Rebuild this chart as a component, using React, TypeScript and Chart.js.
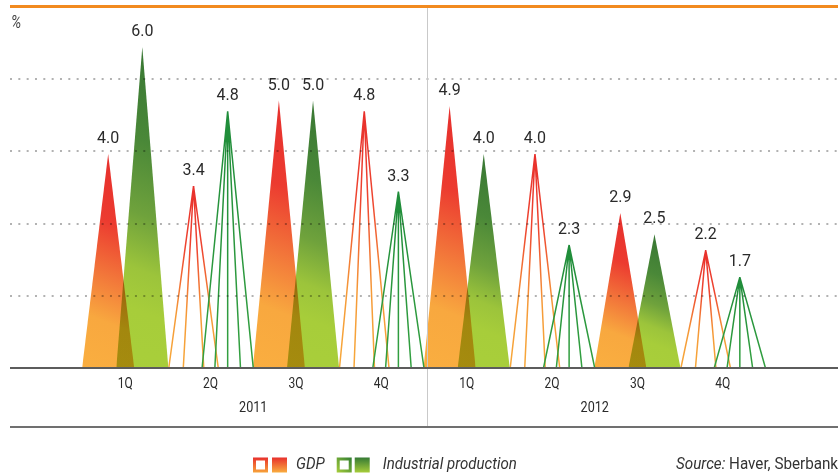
import React, { useEffect, useRef } from "react";
import { Chart, registerables } from "chart.js";

// ---------- data ----------
const quarterLabels = ["1Q", "2Q", "3Q", "4Q", "1Q", "2Q", "3Q", "4Q"];
const yearLabels = ["2011", "2012"];
const gdpValues = [4.0, 3.4, 5.0, 4.8, 4.9, 4.0, 2.9, 2.2];
const industrialValues = [6.0, 4.8, 5.0, 3.3, 4.0, 2.3, 2.5, 1.7];
const markStyles = ["solid", "lines", "solid", "lines", "solid", "lines", "solid", "lines"];
const seriesNames = ["GDP", "Industrial production"];
const yMax = 6.75;
const yStep = 1.35;

// ---------- geometry / style (category units) ----------
const X_MIN = -1.35;
const X_MAX = 8.35;
const HALF = 0.305;
const SHIFT = 0.2;
const GDP_FAN = [-0.29, -0.12, 0.12, 0.29];
const IP_FAN = [-0.3, -0.15, 0, 0.15, 0.3];
const FONT = "Roboto, 'DejaVu Sans', sans-serif";

const GDP_STOPS: [number, string][] = [
  [0, "#e52d2c"], [0.34, "#ec3b30"], [0.56, "#f2763a"], [0.75, "#f8a83f"], [1, "#faaf40"],
];
const IP_STOPS: [number, string][] = [
  [0, "#337232"], [0.32, "#4a8838"], [0.52, "#6fa23c"], [0.67, "#9cc43b"], [0.78, "#a7cd3a"], [1, "#a9cf3a"],
];
const GDP_LINE_STOPS: [number, string][] = [[0, "#e8302c"], [0.35, "#ee4530"], [0.7, "#f59a38"], [1, "#f7a83a"]];
const IP_LINE_STOPS: [number, string][] = [[0, "#1f8c3a"], [1, "#33a040"]];

const blendPlugin: any = {
  id: "blendMultiply",
  beforeDatasetDraw(chart: any, args: any) {
    const ds = chart.data.datasets[args.index];
    if (ds.blend) {
      chart.ctx.save();
      chart.ctx.globalCompositeOperation = ds.blend;
    }
  },
  afterDatasetDraw(chart: any, args: any) {
    const ds = chart.data.datasets[args.index];
    if (ds.blend) chart.ctx.restore();
  },
};
Chart.register(blendPlugin, ...registerables);

function triGradient(chart: any, ds: any, stops: [number, string][], tilt: number) {
  if (!chart.chartArea || !ds) return stops[stops.length - 1][1];
  const xs = chart.scales.x, ys = chart.scales.y;
  const tip = ds.data[1];
  const tx = xs.getPixelForValue(tip.x);
  const ty = ys.getPixelForValue(tip.y);
  const by = ys.getPixelForValue(0);
  const h = by - ty;
  const g = chart.ctx.createLinearGradient(tx + tilt * h, ty, tx - tilt * h, by);
  stops.forEach(([o, c]) => g.addColorStop(o, c));
  return g;
}

function buildDatasets() {
  const sets: any[] = [];
  const add = (
    values: number[], shift: number, stops: [number, string][], fan: number[],
    lineStops: [number, string][], order: number, blend: string | null
  ) => {
    values.forEach((v, i) => {
      const c = i + shift;
      if (markStyles[i] === "solid") {
        sets.push({
          data: [{ x: c - HALF, y: 0 }, { x: c, y: v }, { x: c + HALF, y: 0 }],
          fill: "origin",
          borderWidth: 0,
          borderColor: "rgba(0,0,0,0)",
          pointRadius: 0,
          order,
          blend,
          backgroundColor: (ctx: any) => triGradient(ctx.chart, ctx.chart.data.datasets[ctx.datasetIndex], stops, 0.2),
        });
      } else {
        const data: any[] = [];
        fan.forEach((o) => {
          data.push({ x: c + o, y: 0 }, { x: c, y: v }, { x: c + o, y: null });
        });
        sets.push({
          data,
          fill: false,
          borderWidth: 1.5,
          spanGaps: false,
          pointRadius: 0,
          borderCapStyle: "butt",
          order,
          blend: null,
          borderColor: (ctx: any) => triGradient(ctx.chart, ctx.chart.data.datasets[ctx.datasetIndex], lineStops, 0),
        });
      }
    });
  };
  add(industrialValues, SHIFT, IP_STOPS, IP_FAN, IP_LINE_STOPS, 0, "multiply");
  add(gdpValues, -SHIFT, GDP_STOPS, GDP_FAN, GDP_LINE_STOPS, 1, null);
  return sets;
}

function drawText(ctx: any, s: string, x: number, y: number, font: string, color: string, align: string, sx = 1) {
  ctx.save();
  ctx.font = font;
  ctx.fillStyle = color;
  ctx.textBaseline = "middle";
  ctx.textAlign = align;
  ctx.translate(x, y);
  ctx.scale(sx, 1);
  ctx.fillText(s, 0, 0);
  ctx.restore();
}

function textWidth(ctx: any, s: string, font: string, sx = 1) {
  ctx.save();
  ctx.font = font;
  const w = ctx.measureText(s).width * sx;
  ctx.restore();
  return w;
}

const decorPlugin: any = {
  id: "decor",
  afterDraw(chart: any) {
    const { ctx, chartArea: a } = chart;
    const xs = chart.scales.x, ys = chart.scales.y;
    ctx.save();
    // dotted gridlines
    ctx.strokeStyle = "rgba(0,0,0,0.3)";
    ctx.lineWidth = 2;
    ctx.setLineDash([2, 6.33]);
    for (let k = 1; k * yStep < yMax - 1e-6; k++) {
      const y = Math.round(ys.getPixelForValue(k * yStep));
      ctx.beginPath();
      ctx.moveTo(a.left, y);
      ctx.lineTo(a.right, y);
      ctx.stroke();
    }
    ctx.setLineDash([]);
    // top orange line
    const yTop = ys.getPixelForValue(yMax);
    ctx.strokeStyle = "#f28a1f";
    ctx.lineWidth = 3;
    ctx.beginPath();
    ctx.moveTo(a.left, yTop - 0.5);
    ctx.lineTo(a.right, yTop - 0.5);
    ctx.stroke();
    const yBottomLine = a.bottom + 59;
    // divider between years
    const xd = Math.round(xs.getPixelForValue(3.5)) + 3.5;
    ctx.strokeStyle = "#c9c9c9";
    ctx.lineWidth = 1;
    ctx.beginPath();
    ctx.moveTo(xd, yTop + 1);
    ctx.lineTo(xd, yBottomLine);
    ctx.stroke();
    // baseline
    ctx.strokeStyle = "#5c5c5c";
    ctx.lineWidth = 2;
    ctx.beginPath();
    ctx.moveTo(a.left, a.bottom);
    ctx.lineTo(a.right, a.bottom);
    ctx.stroke();
    // bottom line
    ctx.strokeStyle = "#707070";
    ctx.beginPath();
    ctx.moveTo(a.left, yBottomLine);
    ctx.lineTo(a.right, yBottomLine);
    ctx.stroke();
    ctx.restore();

    // value labels
    const labelFont = `16px ${FONT}`;
    const drawVals = (values: number[], shift: number) => {
      values.forEach((v, i) => {
        const px = xs.getPixelForValue(i + shift);
        const py = ys.getPixelForValue(v);
        ctx.save();
        ctx.font = labelFont;
        ctx.fillStyle = "#2a2a2a";
        ctx.textAlign = "center";
        ctx.textBaseline = "alphabetic";
        ctx.fillText(v.toFixed(1), px, py - 11);
        ctx.restore();
      });
    };
    drawVals(gdpValues, -SHIFT);
    drawVals(industrialValues, SHIFT);

    // category labels
    quarterLabels.forEach((q, i) => {
      drawText(ctx, q, xs.getPixelForValue(i), a.bottom + 16, `14px ${FONT}`, "#2a2a2a", "center", 0.86);
    });
    yearLabels.forEach((yl, j) => {
      drawText(ctx, yl, xs.getPixelForValue(j * 4 + 1.5), a.bottom + 40, `14px ${FONT}`, "#2a2a2a", "center", 0.9);
    });

    // percent sign
    drawText(ctx, "%", 11, 23, `italic 18px ${FONT}`, "#444444", "left", 0.8);

    // legend
    const ly = 457.5;
    const sq = 15;
    const legFont = `italic 16px ${FONT}`;
    const legSx = 0.94;
    const sqGrad = (x0: number, y0: number, x1: number, y1: number, stops: [number, string][]) => {
      const g = ctx.createLinearGradient(x0, y0, x1, y1);
      stops.forEach(([o, c]) => g.addColorStop(o, c));
      return g;
    };
    let lx = 253;
    ctx.save();
    ctx.lineWidth = 3;
    ctx.strokeStyle = sqGrad(0, ly, 0, ly + sq, [[0, "#e8302c"], [1, "#f7a33a"]]);
    ctx.strokeRect(lx + 1.5, ly + 1.5, sq - 3, sq - 3);
    lx += sq + 4;
    ctx.fillStyle = sqGrad(0, ly, 0, ly + sq, [[0, "#e8302c"], [1, "#f9ad3f"]]);
    ctx.fillRect(lx, ly, sq, sq);
    ctx.restore();
    lx += sq + 9;
    drawText(ctx, seriesNames[0], lx, ly + 7.5, legFont, "#333333", "left", legSx);
    lx += textWidth(ctx, seriesNames[0], legFont, legSx) + 12;
    ctx.save();
    ctx.lineWidth = 3;
    ctx.strokeStyle = sqGrad(lx, ly + sq, lx + sq, ly, [[0, "#a7cd3a"], [1, "#2f7d32"]]);
    ctx.strokeRect(lx + 1.5, ly + 1.5, sq - 3, sq - 3);
    lx += sq + 3;
    ctx.fillStyle = sqGrad(0, ly, 0, ly + sq, [[0, "#357a34"], [1, "#a7cd3a"]]);
    ctx.fillRect(lx, ly, sq, sq);
    ctx.restore();
    lx += sq + 13;
    drawText(ctx, seriesNames[1], lx, ly + 7.5, legFont, "#333333", "left", legSx);

    // source
    const srcFontI = `italic 16px ${FONT}`;
    const srcFont = `16px ${FONT}`;
    drawText(ctx, "Source:", 676, ly + 7.5, srcFontI, "#333333", "left", 0.95);
    const sw = textWidth(ctx, "Source: ", srcFontI, 0.95);
    drawText(ctx, "Haver, Sberbank", 676 + sw, ly + 7.5, srcFont, "#333333", "left", 0.95);
  },
};

export default function App() {
  const ref = useRef<HTMLCanvasElement>(null);
  useEffect(() => {
    document.body.style.margin = "0";
    const chart = new Chart(ref.current as HTMLCanvasElement, {
      type: "line",
      data: { datasets: buildDatasets() as any },
      options: {
        responsive: false,
        animation: false,
        devicePixelRatio: 1,
        events: [],
        layout: { padding: { left: 10, right: 0, top: 7, bottom: 106 } },
        plugins: { legend: { display: false }, tooltip: { enabled: false } },
        elements: { point: { radius: 0 }, line: { tension: 0 } },
        scales: {
          x: { type: "linear", min: X_MIN, max: X_MAX, display: false },
          y: { type: "linear", min: 0, max: yMax, display: false, ticks: { stepSize: yStep } },
        },
      } as any,
      plugins: [decorPlugin],
    });
    return () => chart.destroy();
  }, []);
  return (
    <div style={{ width: 838, height: 474 }}>
      <canvas ref={ref} width={838} height={474} style={{ display: "block" }} />
    </div>
  );
}
